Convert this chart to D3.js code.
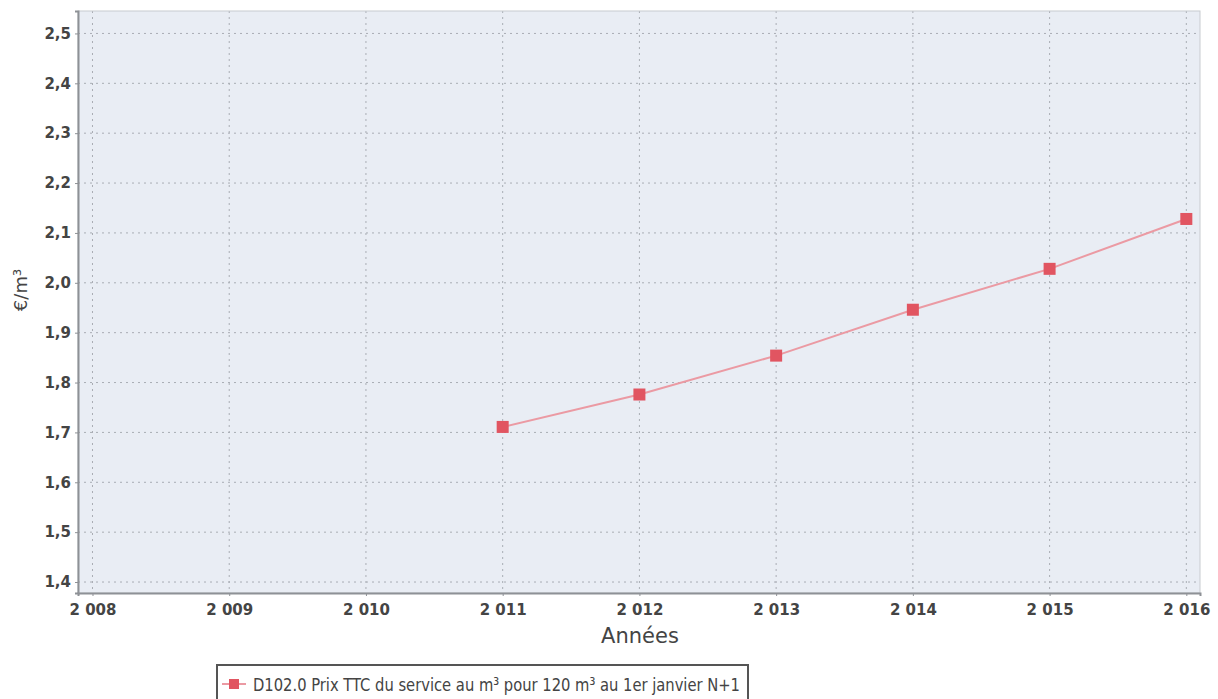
<!DOCTYPE html>
<html><head><meta charset="utf-8">
<script src="https://cdn.jsdelivr.net/npm/d3@7"></script>
<style>body{margin:0;background:#fff;}svg{display:block;}</style>
</head><body>
<svg id="c" width="1218" height="699"></svg>
<script>
const years = [2011, 2012, 2013, 2014, 2015, 2016];
const prices = [1.711, 1.776, 1.854, 1.946, 2.028, 2.128];
const xTicks = [2008, 2009, 2010, 2011, 2012, 2013, 2014, 2015, 2016];
const yTicks = [1.4, 1.5, 1.6, 1.7, 1.8, 1.9, 2.0, 2.1, 2.2, 2.3, 2.4, 2.5];
const seriesName = "D102.0 Prix TTC du service au m³ pour 120 m³ au 1er janvier N+1";
const xTitle = "Années";
const yTitle = "€/m³";

const svg = d3.select("#c");
const L = 78, R = 1200, T = 11, B = 593;
const x = d3.scaleLinear().domain([2007.894, 2016.1]).range([L, R]);
const y = d3.scaleLinear().domain([1.378, 2.545]).range([B, T]);
const fmtY = v => d3.format(".1f")(v).replace(".", ",");
const fmtX = v => String(v).replace(/^(\d)(\d{3})$/, "$1 $2");

svg.append("rect").attr("x", L).attr("y", T).attr("width", R - L).attr("height", B - T)
  .attr("fill", "#e9edf4");

const g = svg.append("g");
g.selectAll(".hg").data(yTicks).join("line")
  .attr("x1", L).attr("x2", R).attr("y1", d => y(d)).attr("y2", d => y(d))
  .attr("stroke", "#a9adb4").attr("stroke-width", 1).attr("stroke-dasharray", "2,4");
g.selectAll(".vg").data(xTicks).join("line")
  .attr("y1", T).attr("y2", B).attr("x1", d => x(d)).attr("x2", d => x(d))
  .attr("stroke", "#a9adb4").attr("stroke-width", 1).attr("stroke-dasharray", "2,4");

svg.append("rect").attr("x", L).attr("y", T).attr("width", R - L).attr("height", B - T)
  .attr("fill", "none").attr("stroke", "#c8cbd0").attr("stroke-width", 1);

const yAxis = svg.append("g").attr("transform", `translate(${L},0)`)
  .call(d3.axisLeft(y).tickValues(yTicks).tickFormat(fmtY).tickSize(3).tickPadding(4));
const xAxis = svg.append("g").attr("transform", `translate(0,${B})`)
  .call(d3.axisBottom(x).tickValues(xTicks).tickFormat(fmtX).tickSize(3).tickPadding(8));
[yAxis, xAxis].forEach(a => {
  a.select(".domain").attr("stroke", "#8e9196").attr("stroke-width", 2);
  a.selectAll(".tick line").attr("stroke", "#8e9196");
  a.selectAll("text").attr("fill", "#444").attr("font-family", "DejaVu Sans")
    .attr("font-size", 15).attr("font-weight", "bold");
});

const data = years.map((yr, i) => ({yr, v: prices[i]}));
svg.append("path").datum(data)
  .attr("fill", "none").attr("stroke", "#eb9aa3").attr("stroke-width", 2)
  .attr("d", d3.line().x(d => x(d.yr)).y(d => y(d.v)));
svg.selectAll(".pt").data(data).join("rect")
  .attr("x", d => x(d.yr) - 6).attr("y", d => y(d.v) - 6)
  .attr("width", 12).attr("height", 12).attr("fill", "#e15561");

svg.append("text").attr("x", 640).attr("y", 643).attr("text-anchor", "middle")
  .attr("font-family", "DejaVu Sans").attr("font-size", 21).attr("fill", "#444").text(xTitle);
svg.append("text").attr("transform", "translate(27,290) rotate(-90)").attr("text-anchor", "middle")
  .attr("font-family", "DejaVu Sans").attr("font-size", 18).attr("fill", "#444").text(yTitle);

const lg = svg.append("g");
lg.append("rect").attr("x", 217).attr("y", 665).attr("width", 531).attr("height", 40)
  .attr("fill", "#fff").attr("stroke", "#555").attr("stroke-width", 2);
lg.append("line").attr("x1", 222).attr("x2", 246).attr("y1", 684).attr("y2", 684)
  .attr("stroke", "#eb9aa3").attr("stroke-width", 2);
lg.append("rect").attr("x", 229).attr("y", 679).attr("width", 10).attr("height", 10).attr("fill", "#e15561");
lg.append("text").attr("x", 253).attr("y", 691).attr("font-family", "DejaVu Sans Condensed, DejaVu Sans")
  .attr("font-size", 18).attr("textLength", 487).attr("lengthAdjust", "spacingAndGlyphs")
  .attr("fill", "#444").text(seriesName);
</script>
</body></html>
